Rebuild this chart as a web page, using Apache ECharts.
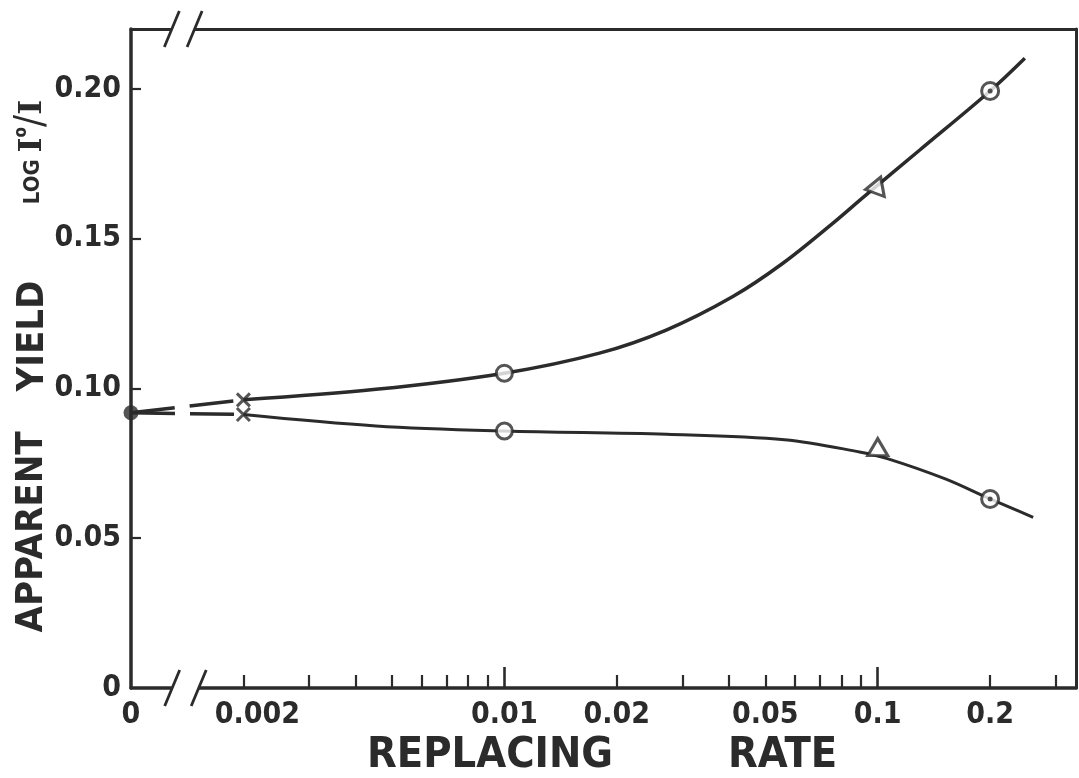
<!DOCTYPE html>
<html>
<head>
<meta charset="utf-8">
<title>Apparent yield vs replacing rate</title>
<script src="https://cdn.jsdelivr.net/npm/echarts@6/dist/echarts.min.js"></script>
<style>
  html, body { margin: 0; padding: 0; background: #ffffff; }
  #chart { width: 1079px; height: 778px; }
</style>
</head>
<body>
<div id="chart"></div>
<script>
// Replacing rate (x, broken log scale with 0 at the far left) vs apparent yield (log I0/I).

// x = 0 is placed one decade left of 0.01 on the log axis (axis is broken there)
const ZERO_POS = -3;
const RATE_AXIS_MAX = -0.469;          // log10 of the right edge of the frame
const YIELD_MIN = 0;
const YIELD_MAX = 0.22;
const YIELD_STEP = 0.05;

// tick labels on the rate axis
const rateTickValues = [0, 0.002, 0.01, 0.02, 0.05, 0.1, 0.2];
const rateTickLabels = ['0', '0.002', '0.01', '0.02', '0.05', '0.1', '0.2'];
// short tick marks on the rate axis
const rateMinorTicks = [0.002, 0.003, 0.004, 0.005, 0.006, 0.007, 0.008, 0.009,
                        0.02, 0.03, 0.04, 0.05, 0.06, 0.07, 0.08, 0.09, 0.2, 0.3];
// long tick marks at the decades
const rateDecadeTicks = [0.01, 0.1];

// tick labels on the yield axis
const yieldTickValues = [0, 0.05, 0.10, 0.15, 0.20];
const yieldTickLabels = ['0', '0.05', '0.10', '0.15', '0.20'];

// common starting point at rate 0
const zeroRate = [0];
const zeroYield = [0.0919];

// measured points (x, circle, triangle, dotted circle)
const markRates = [0.002, 0.01, 0.1, 0.2];
const upperMarkYield = [0.0962, 0.1051, 0.1679, 0.1993];
const lowerMarkYield = [0.0913, 0.0858, 0.0804, 0.0631];

// drawn curves
const upperCurveRate  = [0.002, 0.00453, 0.01, 0.01798, 0.02713, 0.04093, 0.05571, 0.07589, 0.0914, 0.1296, 0.2, 0.2477];
const upperCurveYield = [0.0962, 0.0997, 0.1051, 0.1118, 0.1195, 0.1307, 0.1418, 0.1552, 0.1638, 0.1796, 0.1993, 0.2102];
const lowerCurveRate  = [0.002, 0.00453, 0.01, 0.02723, 0.05633, 0.08937, 0.1066, 0.1517, 0.2, 0.2608];
const lowerCurveYield = [0.0913, 0.0875, 0.0858, 0.0847, 0.0829, 0.0788, 0.0765, 0.0698, 0.0631, 0.0570];

const INK = '#2b2b2b';
const FONT = '"DejaVu Sans Condensed", "DejaVu Sans", sans-serif';

// rate -> position on the broken log axis
const ratePos = r => (r === 0 ? ZERO_POS : Math.log10(r));
const pairs = (xs, ys) => xs.map((x, i) => [ratePos(x), ys[i]]);

const markSymbols = [
  'path://M0,0L10,10M10,0L0,10',   // x
  'circle',
  'triangle',
  'circle'
];
const markSizes = [13, 16, [20, 17], 17];

function markerSeries(name, ys, rotateTriangle) {
  return {
    name: name,
    type: 'scatter',
    z: 5,
    data: pairs(markRates, ys),
    symbol: (v, p) => markSymbols[p.dataIndex],
    symbolSize: (v, p) => markSizes[p.dataIndex],
    symbolRotate: (v, p) => (p.dataIndex === 2 ? rotateTriangle : 0),
    itemStyle: { color: '#ffffff', borderColor: INK, borderWidth: 3 }
  };
}

function centreDotSeries(ys) {
  // the dot in the centre of the dotted circles
  const idx = markRates.length - 1;
  return {
    type: 'scatter',
    z: 6,
    data: [[ratePos(markRates[idx]), ys[idx]]],
    symbol: 'circle',
    symbolSize: 5,
    itemStyle: { color: INK }
  };
}

function curveSeries(xs, ys, width) {
  return {
    type: 'line',
    z: 3,
    data: pairs(xs, ys),
    smooth: 0.35,
    showSymbol: false,
    lineStyle: { color: INK, width: width },
    silent: true
  };
}

function dashedSeries(yEnd) {
  return {
    type: 'line',
    z: 3,
    data: [[ratePos(zeroRate[0]), zeroYield[0]], [ratePos(markRates[0]), yEnd]],
    showSymbol: false,
    lineStyle: { color: INK, width: 3.5, type: [44, 15] },
    silent: true
  };
}

const labelText = {
  color: INK, fontFamily: FONT, fontWeight: 'bold'
};

const option = {
  backgroundColor: '#ffffff',
  animation: false,
  grid: { left: 131, right: 3, top: 29, bottom: 90, containLabel: false, outerBoundsMode: 'none' },
  xAxis: [
    {
      type: 'value',
      position: 'bottom',
      min: ZERO_POS,
      max: RATE_AXIS_MAX,
      axisLine: { show: true, onZero: false, lineStyle: { color: INK, width: 3.5 } },
      axisTick: {
        show: true, inside: true, length: 13,
        customValues: rateMinorTicks.map(ratePos),
        lineStyle: { color: INK, width: 2.2 }
      },
      axisLabel: {
        show: true, margin: 12, fontSize: 30, ...labelText,
        showMinLabel: true, showMaxLabel: true,
        customValues: rateTickValues.map(ratePos),
        formatter: v => {
          const i = rateTickValues.findIndex(t => Math.abs(ratePos(t) - v) < 1e-6);
          if (i < 0) return '';
          return rateTickValues[i] === 0.002 ? '{s|' + rateTickLabels[i] + '}' : rateTickLabels[i];
        },
        rich: { s: { fontSize: 30, ...labelText, padding: [0, 0, 0, 28] } }
      },
      splitLine: { show: false }
    },
    {
      type: 'value',
      position: 'bottom',
      min: ZERO_POS,
      max: RATE_AXIS_MAX,
      axisLine: { show: false, onZero: false },
      axisTick: {
        show: true, inside: true, length: 21,
        customValues: rateDecadeTicks.map(ratePos),
        lineStyle: { color: INK, width: 2.6 }
      },
      axisLabel: { show: false },
      splitLine: { show: false }
    },
    {
      type: 'value',
      position: 'top',
      min: ZERO_POS,
      max: RATE_AXIS_MAX,
      axisLine: { show: true, onZero: false, lineStyle: { color: INK, width: 3 } },
      axisTick: { show: false },
      axisLabel: { show: false },
      splitLine: { show: false }
    }
  ],
  yAxis: [
    {
      type: 'value',
      position: 'left',
      min: YIELD_MIN,
      max: YIELD_MAX,
      interval: YIELD_STEP,
      axisLine: { show: true, onZero: false, lineStyle: { color: INK, width: 3.5 } },
      axisTick: {
        show: true, inside: true, length: 10,
        customValues: yieldTickValues.filter(v => v > 0),
        lineStyle: { color: INK, width: 2.2 }
      },
      axisLabel: {
        show: true, margin: 10, fontSize: 30, ...labelText,
        customValues: yieldTickValues,
        formatter: v => {
          const i = yieldTickValues.findIndex(t => Math.abs(t - v) < 1e-9);
          return i < 0 ? '' : yieldTickLabels[i];
        }
      },
      splitLine: { show: false }
    },
    {
      type: 'value',
      position: 'right',
      min: YIELD_MIN,
      max: YIELD_MAX,
      axisLine: { show: true, onZero: false, lineStyle: { color: INK, width: 3 } },
      axisTick: { show: false },
      axisLabel: { show: false },
      splitLine: { show: false }
    }
  ],
  series: [
    dashedSeries(upperMarkYield[0]),
    dashedSeries(lowerMarkYield[0]),
    curveSeries(upperCurveRate, upperCurveYield, 3.5),
    curveSeries(lowerCurveRate, lowerCurveYield, 3),
    markerSeries('upper', upperMarkYield, -20),
    markerSeries('lower', lowerMarkYield, 0),
    centreDotSeries(upperMarkYield),
    centreDotSeries(lowerMarkYield),
    {
      type: 'scatter',
      z: 6,
      data: pairs(zeroRate, zeroYield),
      symbol: 'circle',
      symbolSize: 15,
      itemStyle: { color: INK }
    }
  ]
};

const chart = echarts.init(document.getElementById('chart'), null, { renderer: 'canvas' });
chart.setOption(option);

// axis break marks "//" and the axis titles
const px = (u, v) => chart.convertToPixel({ xAxisIndex: 0, yAxisIndex: 0 }, [u, v]);

function breakMarks(uA, uB, v) {
  const a = px(uA, v), b = px(uB, v);
  const els = [{
    type: 'rect', z: 100,
    shape: { x: a[0], y: a[1] - 5, width: b[0] - a[0], height: 10 },
    style: { fill: '#ffffff' }
  }];
  [a, b].forEach(p => {
    els.push({
      type: 'line', z: 101,
      shape: { x1: p[0] - 7, y1: p[1] + 18, x2: p[0] + 8, y2: p[1] - 18 },
      style: { stroke: INK, lineWidth: 2.8 }
    });
  });
  return els;
}

const titleStyle = (text, size) => ({
  text: text, fill: INK, font: 'bold ' + size + 'px ' + FONT,
  textAlign: 'center', textVerticalAlign: 'middle'
});

const graphics = [
  ...breakMarks(ZERO_POS + 0.109, ZERO_POS + 0.180, YIELD_MIN),
  ...breakMarks(ZERO_POS + 0.108, ZERO_POS + 0.169, YIELD_MAX),
  { type: 'text', z: 100, x: 367, y: 756, style: { text: 'REPLACING', fill: INK, font: 'bold 43px ' + FONT, textAlign: 'left', textVerticalAlign: 'middle' } },
  { type: 'text', z: 100, x: 728, y: 756, style: { text: 'RATE', fill: INK, font: 'bold 43px ' + FONT, textAlign: 'left', textVerticalAlign: 'middle' } },
  { type: 'text', z: 100, x: 32, y: 532, rotation: Math.PI / 2, style: titleStyle('APPARENT', 38) },
  { type: 'text', z: 100, x: 33, y: 336, rotation: Math.PI / 2, style: titleStyle('YIELD', 38) },
  {
    type: 'text', z: 100, x: 33, y: 152, rotation: Math.PI / 2,
    style: {
      text: '{l|LOG }{i|I}{o|o}{s|/}{i|I}',
      fill: INK, textAlign: 'center', textVerticalAlign: 'middle',
      rich: {
        l: { fontFamily: FONT, fontWeight: 'bold', fontSize: 22, color: INK },
        i: { fontFamily: '"DejaVu Serif", serif', fontWeight: 'bold', fontSize: 32, color: INK },
        o: { fontFamily: FONT, fontWeight: 'bold', fontSize: 17, color: INK, verticalAlign: 'top', padding: [0, 0, 12, 0] },
        s: { fontFamily: FONT, fontSize: 40, color: INK }
      }
    }
  }
];

chart.setOption({ graphic: graphics });
</script>
</body>
</html>
